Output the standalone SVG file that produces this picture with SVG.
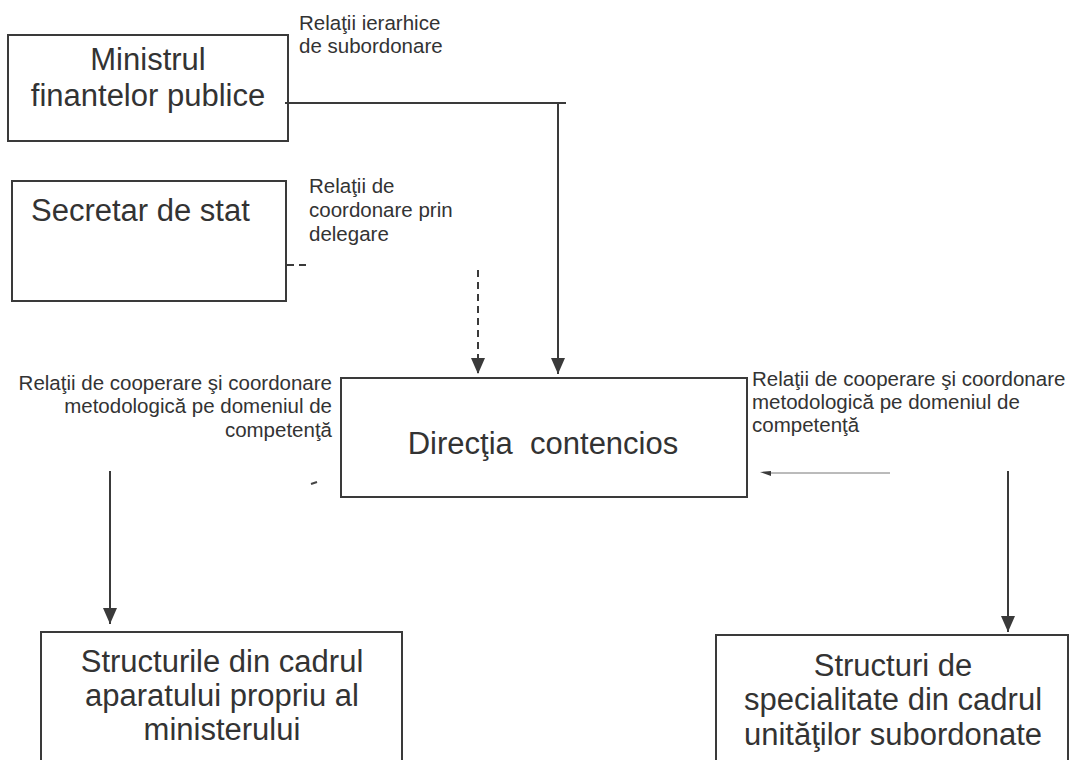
<svg xmlns="http://www.w3.org/2000/svg" width="1071" height="760" viewBox="0 0 1071 760">
<defs>
<marker id="ah" markerWidth="16" markerHeight="14" refX="16" refY="7" orient="auto" markerUnits="userSpaceOnUse" viewBox="0 0 16 14">
<path d="M0,0 L16,7 L0,14 Z" fill="#3a3a3a"/>
</marker>
<style>
.box{fill:#fff;stroke:#3a3a3a;stroke-width:2}
.big{font-family:"Liberation Sans",Arial,sans-serif;font-size:31px;fill:#333}
.sm{font-family:"Liberation Sans",Arial,sans-serif;font-size:20.5px;fill:#333}
.ln{stroke:#3a3a3a;stroke-width:2;fill:none}
.dash{stroke:#3a3a3a;stroke-width:2;fill:none;stroke-dasharray:7 5}
</style>
</defs>
<rect width="1071" height="760" fill="#fff"/>
<g id="ministrul">
<rect class="box" x="8" y="35" width="280" height="106"/>
<text class="big" x="148" y="70" text-anchor="middle">Ministrul</text>
<text class="big" x="148" y="106" text-anchor="middle">finantelor publice</text>
</g>
<g id="secretar">
<rect class="box" x="12" y="181" width="274" height="120"/>
<text class="big" x="31" y="221">Secretar de stat</text>
</g>
<g id="directia">
<rect class="box" x="341" y="378" width="406" height="119"/>
<text class="big" x="543" y="454" text-anchor="middle" xml:space="preserve" style="white-space:pre">Direcţia  contencios</text>
</g>
<g id="structurile">
<rect class="box" x="41" y="632" width="361" height="140"/>
<text class="big" x="222" y="672" text-anchor="middle">Structurile din cadrul</text>
<text class="big" x="222" y="706" text-anchor="middle">aparatului propriu al</text>
<text class="big" x="222" y="740" text-anchor="middle">ministerului</text>
</g>
<g id="structuri">
<rect class="box" x="716" y="635" width="352" height="140"/>
<text class="big" x="893" y="676" text-anchor="middle">Structuri de</text>
<text class="big" x="893" y="710" text-anchor="middle">specialitate din cadrul</text>
<text class="big" x="893" y="745" text-anchor="middle">unităţilor subordonate</text>
</g>
<g id="labels">
<text class="sm" x="299" y="30">Relaţii ierarhice</text>
<text class="sm" x="299" y="53">de subordonare</text>
<text class="sm" x="309" y="193">Relaţii de</text>
<text class="sm" x="309" y="217">coordonare prin</text>
<text class="sm" x="309" y="241">delegare</text>
<text class="sm" x="332" y="390" text-anchor="end">Relaţii de cooperare şi coordonare</text>
<text class="sm" x="332" y="413" text-anchor="end">metodologică pe domeniul de</text>
<text class="sm" x="332" y="437" text-anchor="end">competenţă</text>
<text class="sm" x="752" y="386">Relaţii de cooperare şi coordonare</text>
<text class="sm" x="752" y="409">metodologică pe domeniul de</text>
<text class="sm" x="752" y="432">competenţă</text>
</g>
<g id="connectors">
<path class="ln" d="M285,103 L566,103"/>
<path class="ln" d="M558,103 L558,374" marker-end="url(#ah)"/>
<path class="dash" d="M287,265 L306,265"/>
<path class="dash" d="M478,270 L478,374" marker-end="url(#ah)"/>
<path class="ln" d="M110,471 L110,624" marker-end="url(#ah)"/>
<path class="ln" d="M1008,471 L1008,632" marker-end="url(#ah)"/>
<path d="M890,473 L770,473" stroke="#777" stroke-width="1" fill="none"/>
<path d="M760,472 L771,471 L771,476 Z" fill="#3a3a3a"/>
<path d="M311,484 L317,482" stroke="#444" stroke-width="2"/>
</g>
</svg>
